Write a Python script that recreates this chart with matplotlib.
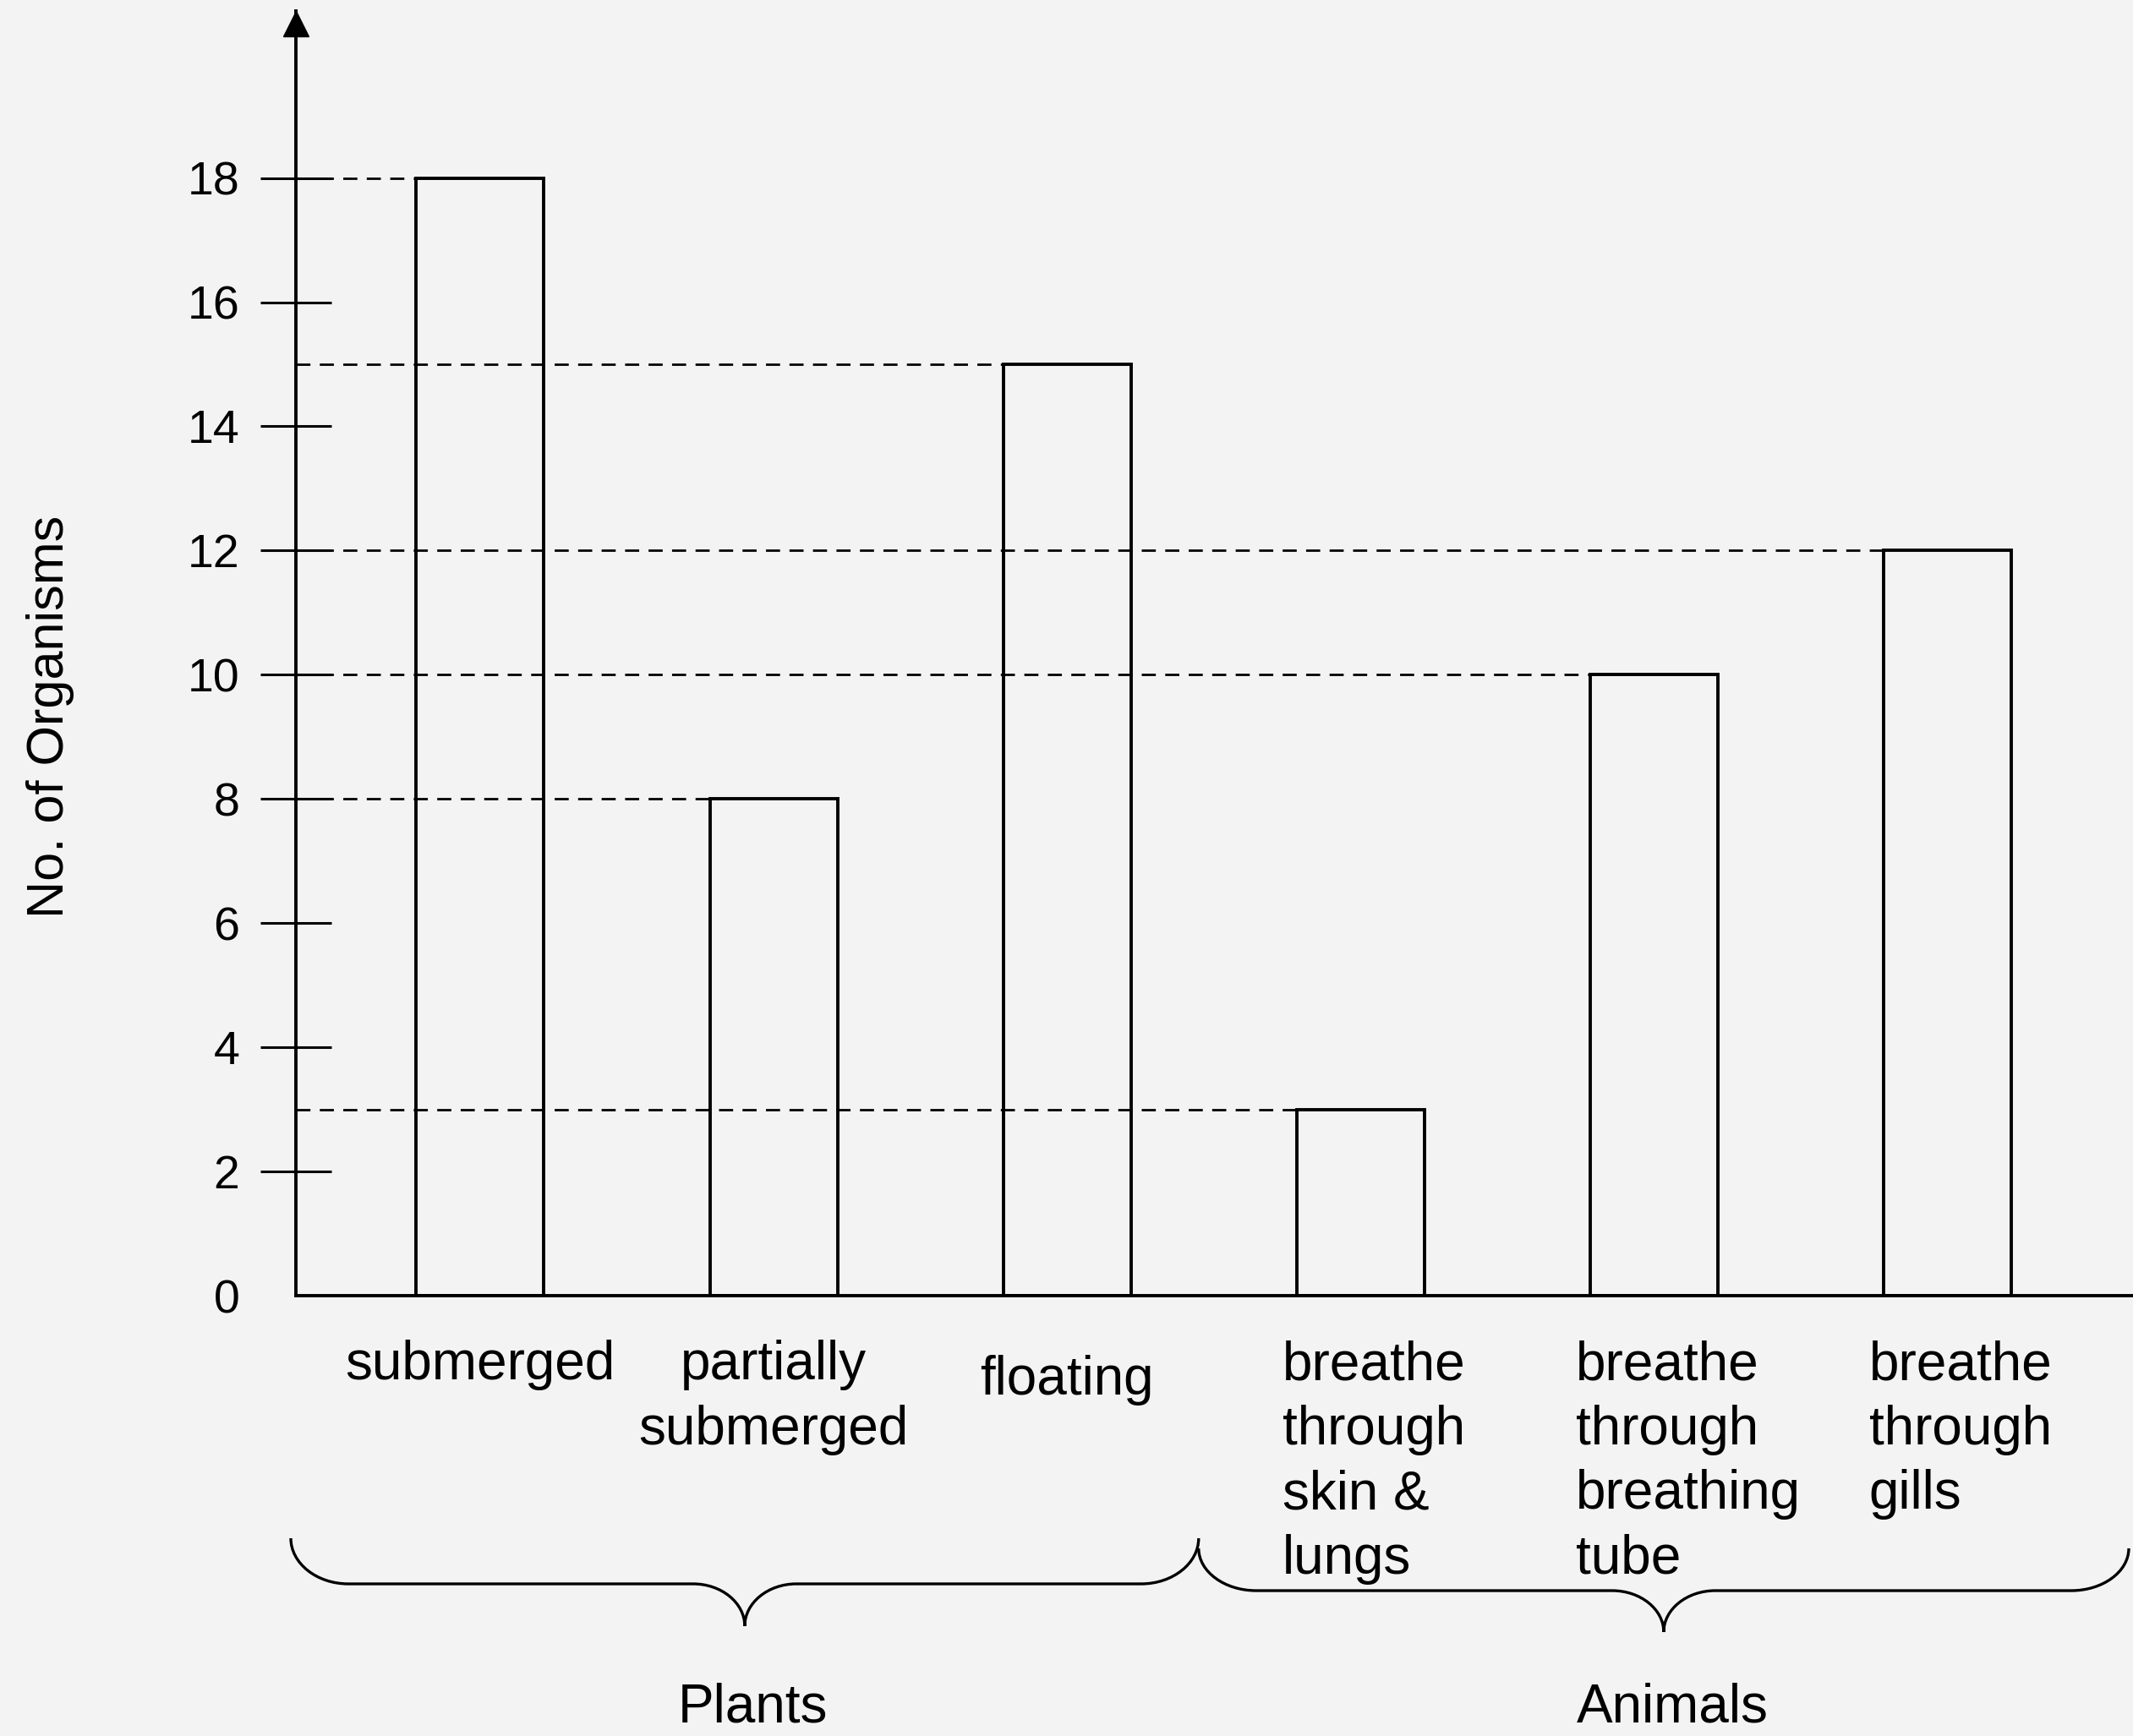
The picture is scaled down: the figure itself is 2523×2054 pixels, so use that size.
import matplotlib
matplotlib.use("Agg")
import matplotlib.pyplot as plt
from matplotlib.path import Path
from matplotlib.patches import PathPatch

# ---------------- data ----------------
categories = ["submerged", "partially\nsubmerged", "floating",
              "breathe\nthrough\nskin &\nlungs",
              "breathe\nthrough\nbreathing\ntube",
              "breathe\nthrough\ngills"]
groups = ["Plants", "Plants", "Plants", "Animals", "Animals", "Animals"]
counts = [18, 8, 15, 3, 10, 12]
y_ticks = [0, 2, 4, 6, 8, 10, 12, 14, 16, 18]
y_label = "No. of Organisms"

# ---------------- figure ----------------
W, H, DPI = 2523, 2054, 100
plt.rcParams['font.family'] = ['Liberation Sans', 'DejaVu Sans']
BG = '#f3f3f3'
fig = plt.figure(figsize=(W / DPI, H / DPI), dpi=DPI, facecolor=BG)

ax = fig.add_axes([350 / W, (H - 1533) / H, (W - 350) / W, (1533 - 13) / H])
ax.set_facecolor('none')

x = list(range(len(categories)))
bar_w = 0.435
x_axis = -0.628
ax.set_xlim(x_axis, 5.632)
ytop = 20.69
ax.set_ylim(0, ytop)

LW = 2.8
ax.bar(x, counts, width=bar_w, facecolor='none', edgecolor='black',
       linewidth=LW, zorder=3)

# dashed guide lines from the axis to each bar
lefts = [xi - bar_w / 2 for xi in x]
ax.hlines(counts, x_axis, lefts, colors='black', linewidth=2.0,
          linestyles=(0, (6, 4)), zorder=2)

for s in ['top', 'right']:
    ax.spines[s].set_visible(False)
ax.spines['left'].set_linewidth(LW)
ax.spines['bottom'].set_linewidth(LW)

ax.set_xticks([])
ax.set_yticks(y_ticks)
ax.set_yticklabels([str(v) for v in y_ticks])
ax.tick_params(axis='y', direction='inout', length=60, width=2.2, pad=18,
               labelsize=40, colors='black')
ax.yaxis.get_major_ticks()[0].tick1line.set_visible(False)

# arrow head on the y axis
ax.plot([x_axis], [ytop - 15 / 73.45], marker='^', markersize=21.6,
        color='black', clip_on=False, zorder=5)

# category labels
label_top = [-0.71, -0.71, -0.95, -0.71, -0.71, -0.71]
for i, (cat, grp) in enumerate(zip(categories, groups)):
    if grp == "Plants":
        ax.text(x[i], label_top[i], cat, ha='center', va='top',
                multialignment='center', fontsize=46, linespacing=1.35,
                clip_on=False)
    else:
        ax.text(lefts[i] - 0.05, label_top[i], cat, ha='left', va='top',
                multialignment='left', fontsize=46, linespacing=1.35,
                clip_on=False)

# ---------------- overlay in pixel coordinates ----------------
ov = fig.add_axes([0, 0, 1, 1])
ov.set_xlim(0, W)
ov.set_ylim(H, 0)
ov.axis('off')
ov.set_facecolor('none')


def data_to_px(xd):
    return ax.transData.transform((xd, 0))[0]


def brace(x0, x1, y_tip, y_h, y_pt, rx=68, cx=61):
    xc = (x0 + x1) / 2
    dy = y_h - y_tip
    dp = y_pt - y_h
    verts = [
        (x0, y_tip),
        (x0, y_tip + 0.55 * dy), (x0 + 0.45 * rx, y_h), (x0 + rx, y_h),
        (xc - cx, y_h),
        (xc - 0.45 * cx, y_h), (xc, y_h + 0.45 * dp), (xc, y_pt),
        (xc, y_h + 0.45 * dp), (xc + 0.45 * cx, y_h), (xc + cx, y_h),
        (x1 - rx, y_h),
        (x1 - 0.45 * rx, y_h), (x1, y_tip + 0.55 * dy), (x1, y_tip),
    ]
    codes = [Path.MOVETO,
             Path.CURVE4, Path.CURVE4, Path.CURVE4,
             Path.LINETO,
             Path.CURVE4, Path.CURVE4, Path.CURVE4,
             Path.CURVE4, Path.CURVE4, Path.CURVE4,
             Path.LINETO,
             Path.CURVE4, Path.CURVE4, Path.CURVE4]
    ov.add_patch(PathPatch(Path(verts, codes), facecolor='none',
                           edgecolor='black', linewidth=2.4))
    return xc


group_names = []
for g in groups:
    if g not in group_names:
        group_names.append(g)

split = 2.5
spans = {"Plants": (data_to_px(x_axis) - 6, data_to_px(split) - 18),
         "Animals": (data_to_px(split) - 18, W - 5)}
brace_y = {"Plants": (1820, 1874, 1924), "Animals": (1832, 1882, 1931)}
for g in group_names:
    x0, x1 = spans[g]
    yt, yh, yp = brace_y[g]
    xc = brace(x0, x1, yt, yh, yp)
    ov.text(xc + 10, 2038, g, ha='center', va='baseline', fontsize=46)

ov.text(75, 848, y_label, rotation=90, rotation_mode='anchor',
        ha='center', va='baseline', fontsize=44)

fig.savefig("out.png", dpi=DPI, facecolor=BG)
